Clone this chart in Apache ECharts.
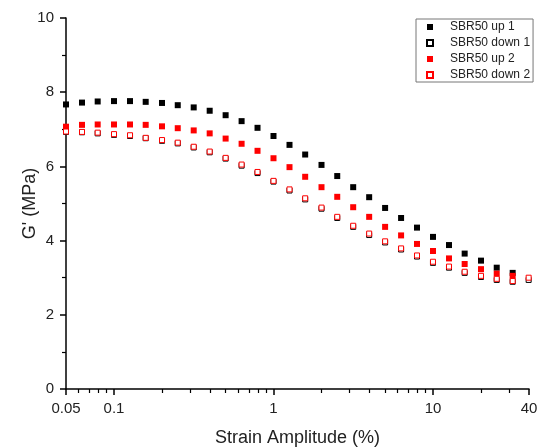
<!DOCTYPE html>
<html>
<head>
<meta charset="utf-8">
<script src="https://cdn.jsdelivr.net/npm/echarts@6/dist/echarts.min.js"></script>
<style>
html, body { margin: 0; padding: 0; background: #fff; }
#chart { width: 537px; height: 447px; }
</style>
</head>
<body>
<div id="chart"></div>
<script>
// strain amplitude (%)
var strain = [0.05, 0.063, 0.079, 0.1, 0.126, 0.158, 0.2, 0.251, 0.316, 0.398,
	0.501, 0.631, 0.794, 1.0, 1.26, 1.58, 2.0, 2.51, 3.16, 3.98,
	5.01, 6.31, 7.94, 10, 12.6, 15.8, 20, 25.1, 31.6, 39.8];

// G' (MPa)
var up1 = [7.67, 7.72, 7.75, 7.76, 7.76, 7.74, 7.71, 7.65, 7.59, 7.50,
	7.38, 7.22, 7.04, 6.82, 6.58, 6.32, 6.04, 5.74, 5.44, 5.17,
	4.88, 4.61, 4.35, 4.10, 3.88, 3.65, 3.46, 3.27, 3.13];
var down1 = [6.93, 6.92, 6.89, 6.85, 6.82, 6.76, 6.69, 6.62, 6.51, 6.38,
	6.21, 6.02, 5.82, 5.59, 5.35, 5.11, 4.86, 4.61, 4.37, 4.15,
	3.95, 3.76, 3.57, 3.40, 3.27, 3.13, 3.02, 2.94, 2.89, 2.94];
var up2 = [7.07, 7.12, 7.13, 7.13, 7.13, 7.12, 7.08, 7.03, 6.97, 6.89,
	6.75, 6.61, 6.42, 6.22, 5.98, 5.72, 5.44, 5.18, 4.90, 4.64,
	4.37, 4.14, 3.91, 3.72, 3.52, 3.37, 3.23, 3.11, 3.05];
var down2 = [6.94, 6.93, 6.91, 6.87, 6.84, 6.77, 6.71, 6.64, 6.53, 6.40,
	6.23, 6.05, 5.85, 5.61, 5.38, 5.14, 4.89, 4.64, 4.40, 4.19,
	3.98, 3.79, 3.60, 3.43, 3.30, 3.16, 3.05, 2.97, 2.91, 3.00];

var seriesNames = ['SBR50 up 1', 'SBR50 down 1', 'SBR50 up 2', 'SBR50 down 2'];

// x axis tick values
var xLabels = [0.05, 0.1, 1, 10, 40];
var xMinorTicks = [0.06, 0.07, 0.08, 0.09, 0.2, 0.3, 0.4, 0.5, 0.6, 0.7, 0.8, 0.9,
	2, 3, 4, 5, 6, 7, 8, 9, 20, 30];

var font = 'Liberation Sans, Arial, sans-serif';

function pairs(ys) {
	return ys.map(function(v, i) { return [strain[i], v]; });
}

var chart = echarts.init(document.getElementById('chart'));

function scatter(name, ys, color, open) {
	return {
		name : name,
		type : 'scatter',
		symbol : 'rect',
		symbolSize : open ? 5 : 6,
		clip : false,
		data : pairs(ys),
		itemStyle : open ? {
			color : '#fff',
			borderColor : color,
			borderWidth : 1,
			opacity : 1
		} : {
			color : color,
			opacity : 1
		},
		emphasis : { disabled : true }
	};
}

chart.setOption({
	animation : false,
	backgroundColor : '#fff',
	textStyle : { fontFamily : font },
	grid : {
		left : 66,
		right : 8,
		top : 18,
		bottom : 58,
		outerBoundsMode : 'none'
	},
	legend : {
		orient : 'vertical',
		left : 416,
		top : 19,
		padding : [2, 3, 1, 10],
		itemGap : 4,
		itemWidth : 6,
		itemHeight : 6,
		borderColor : '#777',
		borderWidth : 1,
		textStyle : {
			fontFamily : font,
			fontSize : 12,
			color : '#222',
			padding : [0, 0, 0, 12]
		},
		data : seriesNames
	},
	xAxis : [ {
		type : 'log',
		logBase : 10,
		min : 0.05,
		max : 40,
		name : 'Strain Amplitude (%)',
		nameLocation : 'middle',
		nameGap : 40,
		nameMoveOverlap : false,
		nameTextStyle : { fontFamily : font, fontSize : 18, color : '#222' },
		axisLine : { onZero : false, lineStyle : { color : '#000', width : 1.5 } },
		axisTick : { show : true, inside : false, length : 6, lineStyle : { color : '#000', width : 1.5 } },
		axisLabel : {
			fontFamily : font,
			fontSize : 15,
			color : '#222',
			margin : 12,
			customValues : xLabels,
			formatter : function(v) { return String(+v.toPrecision(3)); }
		},
		splitLine : { show : false },
		minorTick : { show : false }
	}, {
		// minor ticks, laid out in log10 space
		type : 'value',
		position : 'bottom',
		min : Math.log10(0.05),
		max : Math.log10(40),
		axisLine : { show : false, onZero : false },
		axisLabel : { show : false },
		axisTick : {
			show : true,
			length : 4,
			customValues : xMinorTicks.map(Math.log10),
			lineStyle : { color : '#000', width : 1.2 }
		},
		splitLine : { show : false }
	} ],
	yAxis : {
		type : 'value',
		min : 0,
		max : 10,
		interval : 2,
		name : "G' (MPa)",
		nameLocation : 'middle',
		nameGap : 27,
		nameMoveOverlap : false,
		nameTextStyle : { fontFamily : font, fontSize : 18, color : '#222' },
		axisLine : { show : true, onZero : false, lineStyle : { color : '#000', width : 1.5 } },
		axisTick : { show : true, length : 6, lineStyle : { color : '#000', width : 1.5 } },
		minorTick : { show : true, splitNumber : 2, length : 4, lineStyle : { color : '#000', width : 1.2 } },
		axisLabel : { fontFamily : font, fontSize : 15, color : '#222', margin : 12 },
		splitLine : { show : false },
		minorSplitLine : { show : false }
	},
	series : [
		scatter(seriesNames[0], up1, '#000000', false),
		scatter(seriesNames[1], down1, '#000000', true),
		scatter(seriesNames[2], up2, '#ff0000', false),
		scatter(seriesNames[3], down2, '#ff0000', true)
	]
});
</script>
</body>
</html>
